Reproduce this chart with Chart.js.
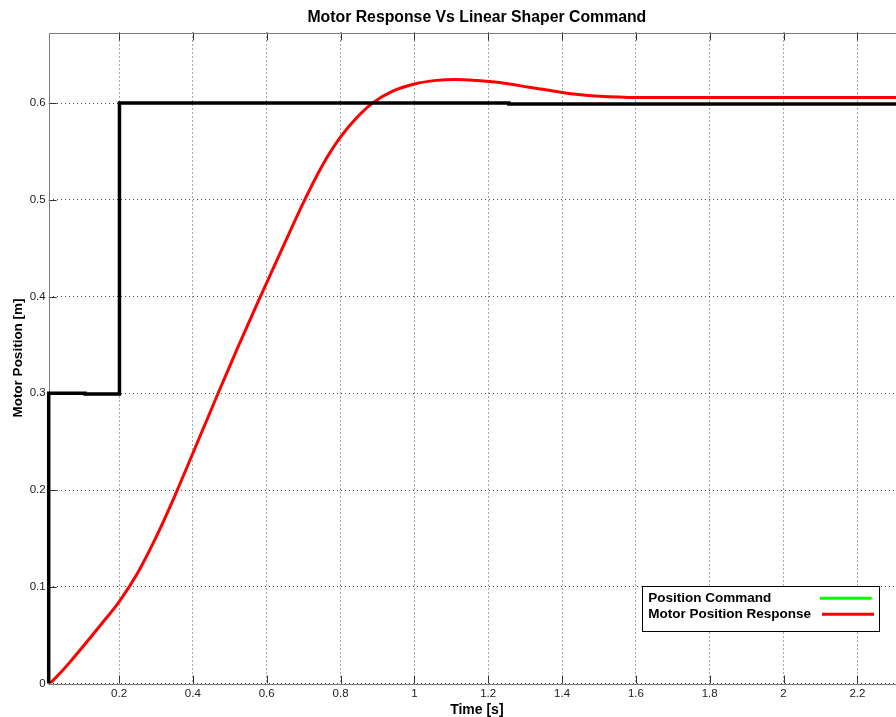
<!DOCTYPE html>
<html><head><meta charset="utf-8">
<script src="https://cdn.jsdelivr.net/npm/chart.js@4/dist/chart.umd.min.js"></script>
<style>
html,body{margin:0;padding:0;overflow:hidden;background:#fff;}
#wrap{width:910px;height:717px;position:relative;}
</style></head><body>
<div id="wrap"><canvas id="c" width="910" height="717"></canvas></div>
<script>
// Position command (shaped step) in metres vs time in seconds
const commandTime = [0.0095, 0.0095, 0.108, 0.108, 0.2012, 0.2012, 1.256, 1.256, 2.33];
const commandPos  = [0,      0.3,    0.3,   0.2993, 0.2993, 0.6,   0.6,   0.599, 0.599];

// Measured motor position response
const responseTime = [0.013, 0.04, 0.07, 0.103, 0.148, 0.2, 0.25, 0.30, 0.35, 0.40, 0.465,
  0.52, 0.583, 0.64, 0.703, 0.75, 0.80, 0.85, 0.89, 0.94, 1.0, 1.06, 1.11, 1.17, 1.23, 1.31, 1.40,
  1.48, 1.58, 1.70, 2.0, 2.33];
const responsePos  = [0, 0.0105, 0.0235, 0.0385, 0.0595, 0.0845, 0.114, 0.151, 0.193, 0.238, 0.297,
  0.346, 0.4, 0.448, 0.5, 0.535, 0.565, 0.5875, 0.601, 0.6122, 0.6198, 0.6235, 0.6245, 0.6234, 0.6213,
  0.6165, 0.611, 0.6075, 0.6059, 0.6057, 0.6057, 0.6057];

const seriesLabels = ['Position Command', 'Motor Position Response'];
const legendColors = ['#00ff00', '#ff0000'];

const xTicks = [0.2, 0.4, 0.6, 0.8, 1, 1.2, 1.4, 1.6, 1.8, 2, 2.2];
const yTicks = [0, 0.1, 0.2, 0.3, 0.4, 0.5, 0.6];

const titleText = 'Motor Response Vs Linear Shaper Command';
const xTitle = 'Time [s]';
const yTitle = 'Motor Position [m]';

const FONT = '"Liberation Sans", Arial, Helvetica, sans-serif';

const toPoints = (xs, ys) => xs.map((x, i) => ({x, y: ys[i]}));

// Axes box with inward tick marks, drawn under the data lines
const framePlugin = {
  id: 'frame',
  beforeDatasetsDraw(chart) {
    const {ctx, chartArea: a, scales: {x, y}} = chart;
    ctx.save();
    ctx.lineWidth = 1;
    ctx.strokeStyle = '#333';
    const len = 8;
    ctx.beginPath();
    xTicks.forEach(v => {
      const px = Math.round(x.getPixelForValue(v)) + 0.5;
      ctx.moveTo(px, a.top); ctx.lineTo(px, a.top + len);
      ctx.moveTo(px, a.bottom); ctx.lineTo(px, a.bottom - len);
    });
    yTicks.forEach(v => {
      const py = Math.round(y.getPixelForValue(v)) + 0.5;
      ctx.moveTo(a.left, py); ctx.lineTo(a.left + len, py);
      ctx.moveTo(a.right, py); ctx.lineTo(a.right - len, py);
    });
    ctx.stroke();
    ctx.strokeStyle = '#7a7a7a';
    ctx.strokeRect(Math.round(a.left) + 0.5, Math.round(a.top) + 0.5,
                   Math.round(a.right - a.left), Math.round(a.bottom - a.top));
    ctx.restore();
  }
};

// Title, axis titles and the boxed legend
const textPlugin = {
  id: 'texts',
  afterDraw(chart) {
    const {ctx, chartArea: a} = chart;
    const cx = (a.left + a.right) / 2;
    ctx.save();
    ctx.fillStyle = '#000';
    ctx.textAlign = 'center';
    ctx.textBaseline = 'middle';
    ctx.font = 'bold 15.8px ' + FONT;
    ctx.fillText(titleText, cx, 17.5);
    ctx.font = 'bold 14px ' + FONT;
    ctx.fillText(xTitle, cx, 710);
    ctx.save();
    ctx.translate(18, (a.top + a.bottom) / 2);
    ctx.rotate(-Math.PI / 2);
    ctx.font = 'bold 13.5px ' + FONT;
    ctx.fillText(yTitle, 0, 0);
    ctx.restore();

    // legend box
    const bx = a.right - 263.3, by = a.bottom - 97.5, bw = 236.6, bh = 44.7;
    ctx.fillStyle = '#fff';
    ctx.fillRect(bx, by, bw, bh);
    ctx.strokeStyle = '#000';
    ctx.lineWidth = 1;
    ctx.strokeRect(Math.round(bx) + 0.5, Math.round(by) + 0.5, Math.round(bw), Math.round(bh));
    ctx.font = 'bold 13.5px ' + FONT;
    ctx.textAlign = 'left';
    const rows = [[12.3, 178.3, 230], [28.3, 180.3, 232.3]];
    seriesLabels.forEach((lab, i) => {
      const [dy, x0, x1] = rows[i];
      ctx.fillStyle = '#000';
      ctx.fillText(lab, bx + 6.5, by + dy);
      ctx.strokeStyle = legendColors[i];
      ctx.lineWidth = 3;
      ctx.beginPath();
      ctx.moveTo(bx + x0, by + dy);
      ctx.lineTo(bx + x1, by + dy);
      ctx.stroke();
    });
    ctx.restore();
  }
};

new Chart(document.getElementById('c'), {
  type: 'line',
  data: {
    datasets: [
      {
        label: seriesLabels[0],
        data: toPoints(commandTime, commandPos),
        borderColor: '#000',
        borderWidth: 3.5,
        pointRadius: 0,
        tension: 0,
        clip: false
      },
      {
        label: seriesLabels[1],
        data: toPoints(responseTime, responsePos),
        borderColor: '#ff0000',
        borderWidth: 3,
        pointRadius: 0,
        cubicInterpolationMode: 'monotone'
      }
    ]
  },
  options: {
    responsive: false,
    animation: false,
    events: [],
    layout: {padding: {top: 32.5, right: 5, left: 0, bottom: 0}},
    plugins: {legend: {display: false}, title: {display: false}, tooltip: {enabled: false}},
    scales: {
      x: {
        type: 'linear',
        min: commandTime[0],
        max: 2.329,
        afterBuildTicks: s => { s.ticks = xTicks.map(v => ({value: v})); },
        afterFit: s => { s.height = 33.5; },
        grid: {color: 'rgba(0,0,0,0.7)', drawTicks: false, lineWidth: 1},
        border: {display: false, dash: [1, 3]},
        ticks: {
          padding: 3,
          color: '#222',
          font: {family: FONT, size: 11.5},
          maxRotation: 0,
          autoSkip: false,
          callback: v => String(v)
        }
      },
      y: {
        type: 'linear',
        min: 0,
        max: 0.673,
        afterBuildTicks: s => { s.ticks = yTicks.map(v => ({value: v})); },
        afterFit: s => { s.width = 48.7; },
        grid: {color: 'rgba(0,0,0,0.7)', drawTicks: false, lineWidth: 1},
        border: {display: false, dash: [1, 3]},
        ticks: {
          padding: 3,
          color: '#222',
          font: {family: FONT, size: 11.5},
          autoSkip: false,
          callback: v => String(v)
        }
      }
    }
  },
  plugins: [framePlugin, textPlugin]
});
</script>
</body></html>
